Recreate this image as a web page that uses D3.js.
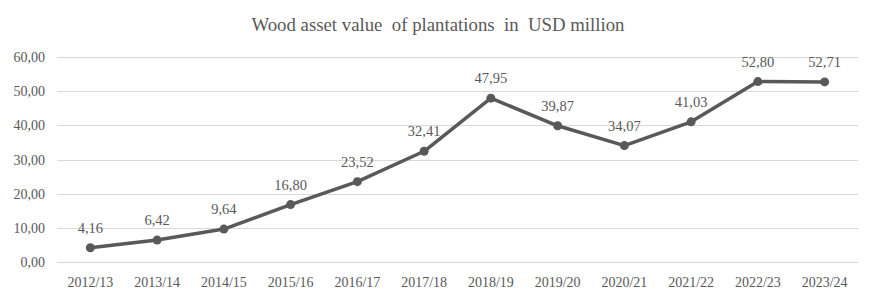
<!DOCTYPE html>
<html>
<head>
<meta charset="utf-8">
<script src="https://cdn.jsdelivr.net/npm/d3@7"></script>
<style>
  body { margin: 0; background: #fff; }
</style>
</head>
<body>
<div id="chart"></div>
<script>
const years = ['2012/13', '2013/14', '2014/15', '2015/16', '2016/17', '2017/18',
               '2018/19', '2019/20', '2020/21', '2021/22', '2022/23', '2023/24'];
const values = [4.16, 6.42, 9.64, 16.80, 23.52, 32.41, 47.95, 39.87, 34.07, 41.03, 52.80, 52.71];
const yTicks = [0, 10, 20, 30, 40, 50, 60];
const title = 'Wood asset value  of plantations  in  USD million';

const width = 876, height = 300;
const margin = {top: 57, right: 18, bottom: 38, left: 57};
const serif = '"Liberation Serif", serif';

const svg = d3.select('#chart')
  .append('svg')
  .attr('width', width)
  .attr('height', height)
  .attr('font-family', serif);

const fmt = v => d3.format('.2f')(v).replace('.', ',');

const x = d3.scaleBand()
  .domain(years)
  .range([margin.left, width - margin.right]);

const y = d3.scaleLinear()
  .domain([0, 60])
  .range([height - margin.bottom, margin.top]);

// title
svg.append('text')
  .attr('x', width / 2)
  .attr('y', 31)
  .attr('text-anchor', 'middle')
  .attr('font-size', 18.8)
  .attr('font-family', serif)
  .attr('fill', '#595959')
  .style('white-space', 'pre')
  .text(title);

// gridlines
svg.append('g')
  .selectAll('line')
  .data(yTicks)
  .enter()
  .append('line')
  .attr('x1', margin.left)
  .attr('x2', width - margin.right)
  .attr('y1', d => Math.round(y(d)) + 0.5)
  .attr('y2', d => Math.round(y(d)) + 0.5)
  .attr('stroke', '#d9d9d9')
  .attr('stroke-width', 1);

// y axis labels
svg.append('g')
  .selectAll('text')
  .data(yTicks)
  .enter()
  .append('text')
  .attr('x', 45)
  .attr('y', d => y(d) + 5)
  .attr('text-anchor', 'end')
  .attr('font-size', 14)
  .attr('font-family', serif)
  .attr('fill', '#595959')
  .text(d => fmt(d));

// x axis labels
svg.append('g')
  .selectAll('text')
  .data(years)
  .enter()
  .append('text')
  .attr('x', d => x(d) + x.bandwidth() / 2)
  .attr('y', 287)
  .attr('text-anchor', 'middle')
  .attr('font-size', 14)
  .attr('font-family', serif)
  .attr('fill', '#595959')
  .text(d => d);

const pts = years.map((d, i) => ({year: d, value: values[i]}));

const line = d3.line()
  .x(d => x(d.year) + x.bandwidth() / 2)
  .y(d => y(d.value));

svg.append('path')
  .datum(pts)
  .attr('d', line)
  .attr('fill', 'none')
  .attr('stroke', '#595959')
  .attr('stroke-width', 3.5)
  .attr('stroke-linejoin', 'round');

svg.append('g')
  .selectAll('circle')
  .data(pts)
  .enter()
  .append('circle')
  .attr('cx', d => x(d.year) + x.bandwidth() / 2)
  .attr('cy', d => y(d.value))
  .attr('r', 4.5)
  .attr('fill', '#595959');

// data labels
svg.append('g')
  .selectAll('text')
  .data(pts)
  .enter()
  .append('text')
  .attr('x', d => x(d.year) + x.bandwidth() / 2)
  .attr('y', d => y(d.value) - 15)
  .attr('text-anchor', 'middle')
  .attr('font-size', 14.5)
  .attr('font-family', serif)
  .attr('fill', '#595959')
  .text(d => fmt(d.value));
</script>
</body>
</html>
